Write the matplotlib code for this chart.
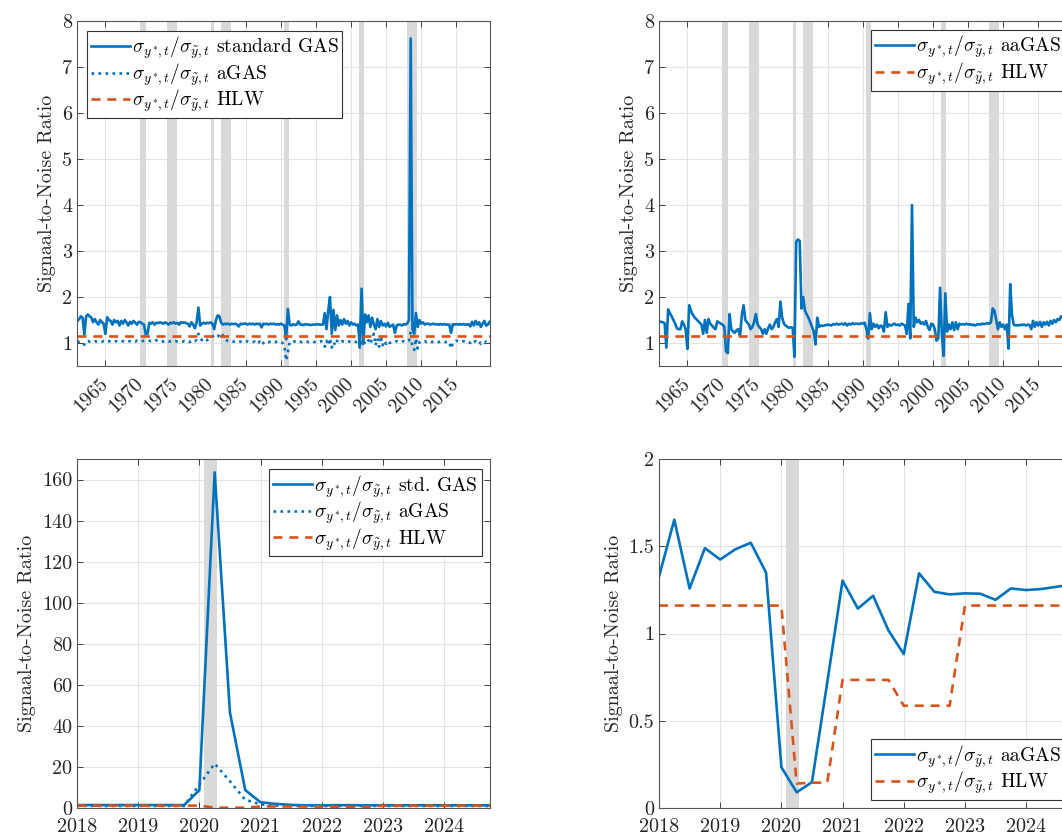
import numpy as np
import matplotlib
matplotlib.use('Agg')
import matplotlib.pyplot as plt

plt.rcParams['font.family'] = ['cmr10', 'DejaVu Serif']
plt.rcParams['mathtext.fontset'] = 'cm'
plt.rcParams['axes.formatter.use_mathtext'] = True

BLUE = '#0072BD'
ORANGE = '#D95319'

# quarterly dates, 1961Q1 .. 2019Q4
dates_long = 1961 + 0.25 * np.arange(236)
# quarterly dates, 2018Q1 .. 2024Q4
dates_short = 2018 + 0.25 * np.arange(28)

# standard GAS signal-to-noise ratio, 1961-2019 (5 years per row)
std_gas = [
    1.48, 1.52, 1.58, 1.55, 1.18, 1.58, 1.62, 1.58, 1.55, 1.45, 1.52, 1.45, 1.40, 1.50, 1.45, 1.42, 1.20, 1.56, 1.50, 1.48,
    1.40, 1.50, 1.45, 1.48, 1.38, 1.48, 1.42, 1.50, 1.45, 1.38, 1.46, 1.42, 1.48, 1.44, 1.40, 1.46, 1.45, 1.42, 1.40, 1.18,
    1.20, 1.44, 1.42, 1.45, 1.40, 1.44, 1.43, 1.45, 1.44, 1.42, 1.45, 1.43, 1.40, 1.44, 1.43, 1.45, 1.42, 1.44, 1.40, 1.45,
    1.44, 1.45, 1.43, 1.42, 1.36, 1.45, 1.40, 1.32, 1.45, 1.77, 1.38, 1.42, 1.44, 1.42, 1.44, 1.43, 1.45, 1.42, 1.30, 1.50,
    1.60, 1.58, 1.44, 1.40, 1.42, 1.41, 1.42, 1.40, 1.42, 1.41, 1.42, 1.40, 1.36, 1.42, 1.41, 1.42, 1.42, 1.40, 1.42, 1.41,
    1.42, 1.40, 1.42, 1.41, 1.42, 1.34, 1.42, 1.41, 1.42, 1.40, 1.42, 1.41, 1.42, 1.40, 1.41, 1.40, 1.42, 1.40, 1.38, 1.08,
    1.74, 1.40, 1.38, 1.41, 1.39, 1.40, 1.47, 1.40, 1.40, 1.39, 1.41, 1.40, 1.40, 1.39, 1.40, 1.40, 1.40, 1.41, 1.40, 1.40,
    1.40, 1.65, 1.30, 1.70, 2.00, 1.20, 1.72, 1.28, 1.60, 1.38, 1.50, 1.40, 1.52, 1.42, 1.48, 1.38, 1.45, 1.40, 1.42, 1.38,
    1.40, 0.95, 2.18, 1.00, 1.62, 1.45, 1.60, 1.35, 1.55, 1.40, 1.30, 1.52, 1.35, 1.48, 1.38, 1.42, 1.36, 1.44, 1.35, 1.38,
    1.40, 1.22, 1.38, 1.40, 1.40, 1.38, 1.41, 1.40, 1.42, 1.50, 7.62, 1.30, 1.20, 1.65, 1.35, 1.50, 1.42, 1.45, 1.40, 1.42,
    1.42, 1.40, 1.41, 1.42, 1.40, 1.41, 1.40, 1.41, 1.40, 1.41, 1.40, 1.40, 1.40, 1.22, 1.41, 1.40, 1.41, 1.40, 1.41, 1.40,
    1.41, 1.40, 1.40, 1.41, 1.36, 1.46, 1.38, 1.48, 1.40, 1.45, 1.35, 1.42, 1.48, 1.38, 1.40, 1.46,
]

# aGAS signal-to-noise ratio, 1961-2019
a_gas = [
    1.04, 1.02, 1.03, 1.00, 0.96, 1.03, 1.04, 1.03, 1.04, 1.03, 1.04, 1.03, 1.03, 1.04, 1.03, 1.04, 1.03, 1.05, 1.04, 1.03,
    1.04, 1.03, 1.04, 1.03, 1.02, 1.03, 1.04, 1.03, 1.02, 1.03, 1.04, 1.03, 1.04, 1.03, 1.05, 1.04, 1.03, 1.04, 1.05, 1.06,
    1.06, 1.05, 1.04, 1.05, 1.04, 1.06, 1.05, 1.04, 1.05, 1.03, 1.04, 1.05, 1.04, 1.03, 1.04, 1.03, 1.04, 1.03, 1.02, 1.03,
    1.03, 1.04, 1.03, 1.04, 1.02, 1.05, 1.06, 1.04, 1.08, 1.20, 1.12, 1.06, 1.10, 1.08, 1.06, 1.10, 1.12, 1.14, 1.16, 1.12,
    1.14, 1.18, 1.22, 1.16, 1.08, 1.06, 1.04, 1.05, 1.04, 1.03, 1.04, 1.03, 1.04, 1.03, 1.02, 1.03, 1.02, 1.04, 1.03, 1.02,
    1.02, 1.03, 0.98, 1.00, 1.03, 0.96, 1.00, 1.04, 1.03, 1.02, 1.03, 1.04, 1.03, 1.02, 1.04, 1.03, 1.02, 1.00, 0.95, 0.62,
    0.80, 1.02, 1.03, 1.04, 1.03, 1.02, 1.04, 1.03, 1.02, 1.03, 1.04, 1.03, 1.02, 1.03, 1.04, 1.02, 1.03, 1.02, 1.03, 1.04,
    1.00, 0.92, 1.05, 0.95, 1.10, 0.90, 1.02, 0.95, 1.05, 1.00, 1.02, 1.04, 1.03, 1.02, 1.04, 1.03, 1.02, 1.04, 1.03, 1.02,
    1.02, 0.90, 1.08, 0.92, 1.05, 1.02, 1.06, 0.98, 1.10, 1.20, 0.95, 1.10, 0.92, 1.15, 0.95, 1.05, 0.98, 1.04, 1.00, 1.02,
    1.03, 1.02, 1.04, 1.03, 1.02, 1.03, 1.04, 1.02, 1.03, 1.05, 1.25, 0.90, 0.85, 1.10, 0.88, 1.02, 1.04, 1.03, 1.04, 1.02,
    1.03, 1.04, 1.02, 1.03, 1.04, 1.03, 1.02, 1.03, 1.04, 1.03, 1.02, 1.03, 1.02, 0.88, 1.00, 1.02, 1.05, 1.04, 1.03, 1.02,
    1.04, 1.03, 1.04, 1.02, 1.00, 1.05, 1.02, 1.04, 1.00, 1.03, 0.98, 1.02, 1.00, 1.03, 0.98, 1.00,
]

# aaGAS signal-to-noise ratio, 1961-2019
aa_gas = [
    1.47, 1.46, 1.45, 1.43, 0.90, 1.73, 1.65, 1.58, 1.50, 1.42, 1.32, 1.30, 1.30, 1.47, 1.40, 1.30, 0.87, 1.82, 1.70, 1.62,
    1.56, 1.52, 1.48, 1.44, 1.40, 1.20, 1.50, 1.22, 1.52, 1.42, 1.38, 1.33, 1.30, 1.47, 1.45, 1.42, 1.40, 1.36, 0.82, 0.78,
    1.63, 1.30, 1.25, 1.22, 1.28, 1.30, 1.15, 1.60, 1.82, 1.50, 1.45, 1.40, 1.30, 1.35, 1.45, 1.63, 1.40, 1.35, 1.30, 1.20,
    1.30, 1.20, 1.32, 1.40, 1.30, 1.35, 1.45, 1.52, 1.35, 1.90, 1.55, 1.42, 1.38, 1.35, 1.33, 1.34, 1.33, 0.70, 3.20, 3.25,
    3.22, 1.75, 2.00, 1.70, 1.62, 1.55, 1.45, 1.35, 1.25, 0.97, 1.55, 1.35, 1.38, 1.37, 1.38, 1.39, 1.40, 1.39, 1.38, 1.41,
    1.40, 1.42, 1.40, 1.41, 1.42, 1.40, 1.43, 1.38, 1.42, 1.40, 1.43, 1.41, 1.42, 1.42, 1.41, 1.43, 1.42, 1.44, 1.30, 1.10,
    1.65, 1.30, 1.42, 1.35, 1.40, 1.32, 1.38, 1.36, 1.25, 1.67, 1.35, 1.40, 1.38, 1.40, 1.42, 1.39, 1.40, 1.38, 1.42, 1.40,
    1.38, 1.20, 1.85, 1.10, 4.00, 1.35, 1.55, 1.45, 1.50, 1.42, 1.45, 1.40, 1.48, 1.35, 1.28, 1.42, 1.40, 1.30, 1.05, 1.10,
    2.20, 1.20, 0.72, 2.08, 1.25, 1.40, 1.30, 1.45, 1.28, 1.45, 1.30, 1.42, 1.40, 1.41, 1.40, 1.42, 1.40, 1.41, 1.39, 1.40,
    1.38, 1.40, 1.41, 1.40, 1.42, 1.41, 1.42, 1.43, 1.42, 1.45, 1.75, 1.70, 1.50, 1.30, 1.45, 1.35, 1.40, 1.30, 1.40, 0.88,
    2.28, 1.60, 1.40, 1.38, 1.39, 1.38, 1.40, 1.39, 1.40, 1.38, 1.40, 1.39, 1.30, 1.48, 1.35, 1.45, 1.38, 1.46, 1.35, 1.45,
    1.40, 1.46, 1.38, 1.48, 1.42, 1.50, 1.45, 1.52, 1.50, 1.58, 1.55, 1.60, 1.58, 1.62, 1.60, 1.62,
]

# HLW signal-to-noise ratio is constant over 1961-2019
hlw_long_level = 1.16

# 2018-2024 panels
std_gas_short = [1.42, 1.45, 1.40, 1.44, 1.42, 1.43, 1.45, 1.40, 8.7, 163.5, 46.5, 8.7, 2.8, 2.0, 1.5, 1.3,
                 1.25, 1.4, 1.35, 1.3, 1.35, 1.3, 1.32, 1.35, 1.3, 1.32, 1.3, 1.32]
a_gas_short = [1.02, 1.03, 1.0, 1.02, 1.01, 1.03, 1.02, 1.0, 11.4, 21.6, 13.0, 4.0, 1.8, 1.2, 1.0, 1.0,
               0.95, 1.0, 1.02, 1.0, 1.01, 1.0, 1.02, 1.01, 1.0, 1.02, 1.01, 1.0]
aa_gas_short = [1.326, 1.652, 1.258, 1.489, 1.424, 1.483, 1.52, 1.349, 0.234, 0.090, 0.148, 0.72, 1.303, 1.143,
                1.216, 1.018, 0.882, 1.345, 1.239, 1.224, 1.23, 1.228, 1.193, 1.258, 1.249, 1.255, 1.268, 1.28]
hlw_short = [1.16, 1.16, 1.16, 1.16, 1.16, 1.16, 1.16, 1.16, 1.16, 0.14, 0.145, 0.145, 0.734, 0.734,
             0.734, 0.734, 0.586, 0.586, 0.586, 0.586, 1.16, 1.16, 1.16, 1.16, 1.16, 1.16, 1.16, 1.16]

# NBER recessions (start, end) in fractional years
recessions = [(1969.92, 1970.83), (1973.83, 1975.17), (1980.0, 1980.5), (1981.5, 1982.83),
              (1990.5, 1991.17), (2001.17, 2001.83), (2007.92, 2009.42), (2020.08, 2020.29)]

label_base = r'$\sigma_{y^*\!,t}/\sigma_{\tilde{y},t}$ '
LW = 1.9
DASH = (3.4, 2.6)


def style_axes(ax, xlim, ylim, yticks, yticklabels, xticks, xticklabels, rotate):
    ax.set_xlim(*xlim)
    ax.set_ylim(*ylim)
    ax.set_yticks(yticks)
    ax.set_yticklabels(yticklabels)
    ax.set_xticks(xticks)
    if rotate:
        ax.set_xticklabels(xticklabels, rotation=45, ha='right', va='center',
                           rotation_mode='anchor')
    else:
        ax.set_xticklabels(xticklabels)
    ax.grid(True, color='#e3e3e3', linewidth=0.8)
    ax.set_axisbelow(True)
    ax.tick_params(direction='in', top=True, right=True, length=4, width=0.7,
                   labelsize=14.5, colors='#404040', labelcolor='#262626')
    ax.tick_params(axis='x', pad=11 if rotate else 7)
    for s in ax.spines.values():
        s.set_color('#555555')
        s.set_linewidth(0.8)
    ax.set_ylabel('Signaal-to-Noise Ratio', fontsize=14.5, color='#262626')
    for a, b in recessions:
        if a < xlim[1] and b > xlim[0]:
            ax.axvspan(a, b, color='#d9d9d9', lw=0, zorder=0.8)


def make_legend(ax, loc, anchor):
    leg = ax.legend(loc=loc, bbox_to_anchor=anchor, fontsize=14, fancybox=False,
                    framealpha=1, edgecolor='#333333', handlelength=2.0,
                    handletextpad=0.1, borderpad=0.2, labelspacing=0.0,
                    borderaxespad=0)
    leg.get_frame().set_linewidth(0.8)


fig = plt.figure(figsize=(10.62, 8.34), dpi=100)
W, H = 1062, 834
ax_w = 413 / W
top_b, top_h = 1 - 366 / H, 345 / H
bot_b, bot_h = 1 - 808 / H, 349 / H
ax1 = fig.add_axes([77 / W, top_b, ax_w, top_h])
ax2 = fig.add_axes([659 / W, top_b, ax_w, top_h])
ax3 = fig.add_axes([77 / W, bot_b, ax_w, bot_h])
ax4 = fig.add_axes([659 / W, bot_b, ax_w, bot_h])

years_long = list(range(1965, 2016, 5))
years_short = list(range(2018, 2025))
hlw_long = [hlw_long_level] * len(dates_long)

# top left
ax1.plot(dates_long, std_gas, color=BLUE, lw=LW, label=label_base + 'standard GAS')
ax1.plot(dates_long, a_gas, color=BLUE, lw=LW, ls=':', label=label_base + 'aGAS')
ax1.plot(dates_long, hlw_long, color=ORANGE, lw=LW, dashes=DASH, label=label_base + 'HLW')
style_axes(ax1, (1960.95, 2019.8), (0.5, 8), range(1, 9), [str(v) for v in range(1, 9)],
           years_long, [str(y) for y in years_long], True)
make_legend(ax1, 'upper left', (0.024, 0.971))

# top right
ax2.plot(dates_long, aa_gas, color=BLUE, lw=LW, label=label_base + 'aaGAS')
ax2.plot(dates_long, hlw_long, color=ORANGE, lw=LW, dashes=DASH, label=label_base + 'HLW')
style_axes(ax2, (1960.95, 2019.8), (0.5, 8), range(1, 9), [str(v) for v in range(1, 9)],
           years_long, [str(y) for y in years_long], True)
make_legend(ax2, 'upper left', (0.513, 0.974))

# bottom left
ax3.plot(dates_short, std_gas_short, color=BLUE, lw=LW, label=label_base + 'std. GAS')
ax3.plot(dates_short, a_gas_short, color=BLUE, lw=LW, ls=':', label=label_base + 'aGAS')
ax3.plot(dates_short, hlw_short, color=ORANGE, lw=LW, dashes=DASH, label=label_base + 'HLW')
style_axes(ax3, (2018, 2024.75), (0, 170), range(0, 161, 20), [str(v) for v in range(0, 161, 20)],
           years_short, [str(y) for y in years_short], False)
make_legend(ax3, 'upper right', (0.98, 0.971))

# bottom right
ax4.plot(dates_short, aa_gas_short, color=BLUE, lw=LW, label=label_base + 'aaGAS')
ax4.plot(dates_short, hlw_short, color=ORANGE, lw=LW, dashes=DASH, label=label_base + 'HLW')
style_axes(ax4, (2018, 2024.75), (0, 2), [0, 0.5, 1, 1.5, 2], ['0', '0.5', '1', '1.5', '2'],
           years_short, [str(y) for y in years_short], False)
make_legend(ax4, 'lower left', (0.513, 0.023))

fig.savefig('out.png', dpi=100)
